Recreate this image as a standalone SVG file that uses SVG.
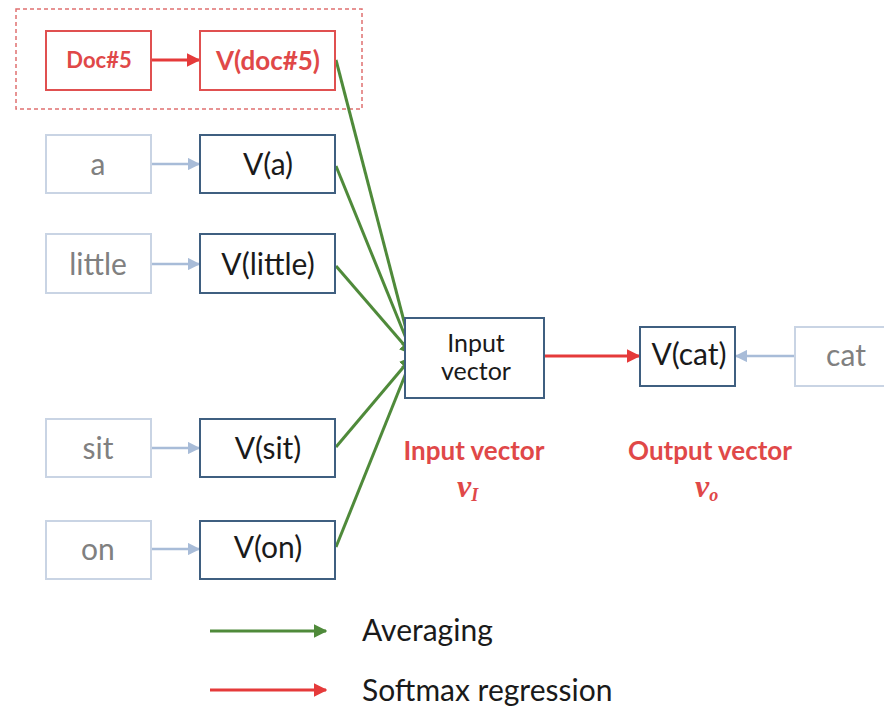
<svg xmlns="http://www.w3.org/2000/svg" width="884" height="712" viewBox="0 0 884 712">
<defs>
<style>
.t{font-family:Lato,"Open Sans","Liberation Sans",sans-serif;text-anchor:middle}
.lb{fill:#fff;stroke:#c9d4e4;stroke-width:2}
.lt{fill:#808080;font-size:30px}
.vb{fill:#fff;stroke:#3f5f80;stroke-width:2}
.vt{fill:#1a1a1a;font-size:30px}
.rb{fill:#fff;stroke:#e05050;stroke-width:2}
.rt{fill:#e04848;font-weight:bold}
.blue{stroke:#a8bcd8;stroke-width:2.5;fill:none}
.green{stroke:#4f8a3a;stroke-width:3;fill:none}
.red{stroke:#e53a3a;stroke-width:3;fill:none}
</style>
<marker id="mb" viewBox="0 0 10 10" refX="9" refY="5" markerWidth="5" markerHeight="5" orient="auto" markerUnits="strokeWidth"><path d="M0,0 L10,5 L0,10 z" fill="#a8bcd8"/></marker>
<marker id="mg" viewBox="0 0 10 10" refX="9" refY="5" markerWidth="4.5" markerHeight="4.5" orient="auto" markerUnits="strokeWidth"><path d="M0,0 L10,5 L0,10 z" fill="#4f8a3a"/></marker>
<marker id="mr" viewBox="0 0 10 10" refX="9" refY="5" markerWidth="4.5" markerHeight="4.5" orient="auto" markerUnits="strokeWidth"><path d="M0,0 L10,5 L0,10 z" fill="#e53a3a"/></marker>
</defs>
<rect width="884" height="712" fill="#fff"/>

<rect x="16" y="9" width="346" height="100" fill="none" stroke="#e07070" stroke-width="1.5" stroke-dasharray="4,3"/>

<g id="connectors">
<line class="red" x1="152" y1="60" x2="199" y2="60" marker-end="url(#mr)"/>
<line class="blue" x1="152" y1="164" x2="199" y2="164" marker-end="url(#mb)"/>
<line class="blue" x1="152" y1="264" x2="199" y2="264" marker-end="url(#mb)"/>
<line class="blue" x1="152" y1="448" x2="199" y2="448" marker-end="url(#mb)"/>
<line class="blue" x1="152" y1="549" x2="199" y2="549" marker-end="url(#mb)"/>
<line class="blue" x1="795" y1="356" x2="736" y2="356" marker-end="url(#mb)"/>
<line class="green" x1="336" y1="60" x2="412" y2="352" marker-end="url(#mg)"/>
<line class="green" x1="336" y1="166" x2="412" y2="353" marker-end="url(#mg)"/>
<line class="green" x1="336" y1="266" x2="412" y2="354" marker-end="url(#mg)"/>
<line class="green" x1="336" y1="447" x2="412" y2="357" marker-end="url(#mg)"/>
<line class="green" x1="336" y1="547" x2="412" y2="358" marker-end="url(#mg)"/>
<line class="red" x1="544" y1="356" x2="639" y2="356" marker-end="url(#mr)"/>
<line class="green" x1="210" y1="631" x2="326" y2="631" marker-end="url(#mg)"/>
<line class="red" x1="210" y1="690" x2="326" y2="690" marker-end="url(#mr)"/>
</g>

<g id="doc5"><rect class="rb" x="46" y="31" width="105" height="59"/><text class="t rt" x="99" y="68" font-size="22">Doc#5</text></g>
<g id="vdoc5"><rect class="rb" x="200" y="31" width="135" height="59"/><text class="t rt" x="268" y="70" font-size="26">V(doc#5)</text></g>

<g id="a"><rect class="lb" x="46" y="135" width="105" height="58"/><text class="t lt" x="98" y="175">a</text></g>
<g id="va"><rect class="vb" x="200" y="135" width="135" height="58"/><text class="t vt" x="268" y="175">V(a)</text></g>

<g id="little"><rect class="lb" x="46" y="234" width="105" height="59"/><text class="t lt" x="98" y="275">little</text></g>
<g id="vlittle"><rect class="vb" x="200" y="234" width="135" height="59"/><text class="t vt" x="268" y="275" font-size="31">V(little)</text></g>

<g id="sit"><rect class="lb" x="46" y="419" width="105" height="58"/><text class="t lt" x="98" y="459">sit</text></g>
<g id="vsit"><rect class="vb" x="200" y="419" width="135" height="58"/><text class="t vt" x="268" y="459">V(sit)</text></g>

<g id="on"><rect class="lb" x="46" y="521" width="105" height="58"/><text class="t lt" x="98" y="560">on</text></g>
<g id="von"><rect class="vb" x="200" y="521" width="135" height="58"/><text class="t vt" x="268" y="558" font-size="22">V(on)</text></g>

<g id="input"><rect class="vb" x="405" y="318" width="139" height="80"/><text class="t" x="476" y="352" font-size="25" fill="#1a1a1a">Input</text><text class="t" x="476" y="380" font-size="25" fill="#1a1a1a">vector</text></g>

<g id="vcat"><rect class="vb" x="640" y="327" width="95" height="59"/><text class="t vt" x="689" y="365" font-size="25">V(cat)</text></g>
<g id="cat"><rect class="lb" x="795" y="327" width="100" height="59"/><text class="t lt" x="846" y="366">cat</text></g>

<g id="labels">
<text class="t rt" x="474" y="460" font-size="26">Input vector</text>
<text x="457" y="497" font-family="'Liberation Serif',serif" font-style="italic" font-weight="bold" font-size="32" fill="#e04848">v<tspan font-size="18" dy="4">I</tspan></text>
<text class="t rt" x="710" y="460" font-size="26">Output vector</text>
<text x="695" y="497" font-family="'Liberation Serif',serif" font-style="italic" font-weight="bold" font-size="32" fill="#e04848">v<tspan font-size="18" dy="4">o</tspan></text>
</g>

<g id="legend">
<text x="362" y="641" font-family="Lato,'Open Sans','Liberation Sans',sans-serif" font-size="30" fill="#1a1a1a">Averaging</text>
<text x="362" y="701" font-family="Lato,'Open Sans','Liberation Sans',sans-serif" font-size="30" fill="#1a1a1a">Softmax regression</text>
</g>
</svg>
